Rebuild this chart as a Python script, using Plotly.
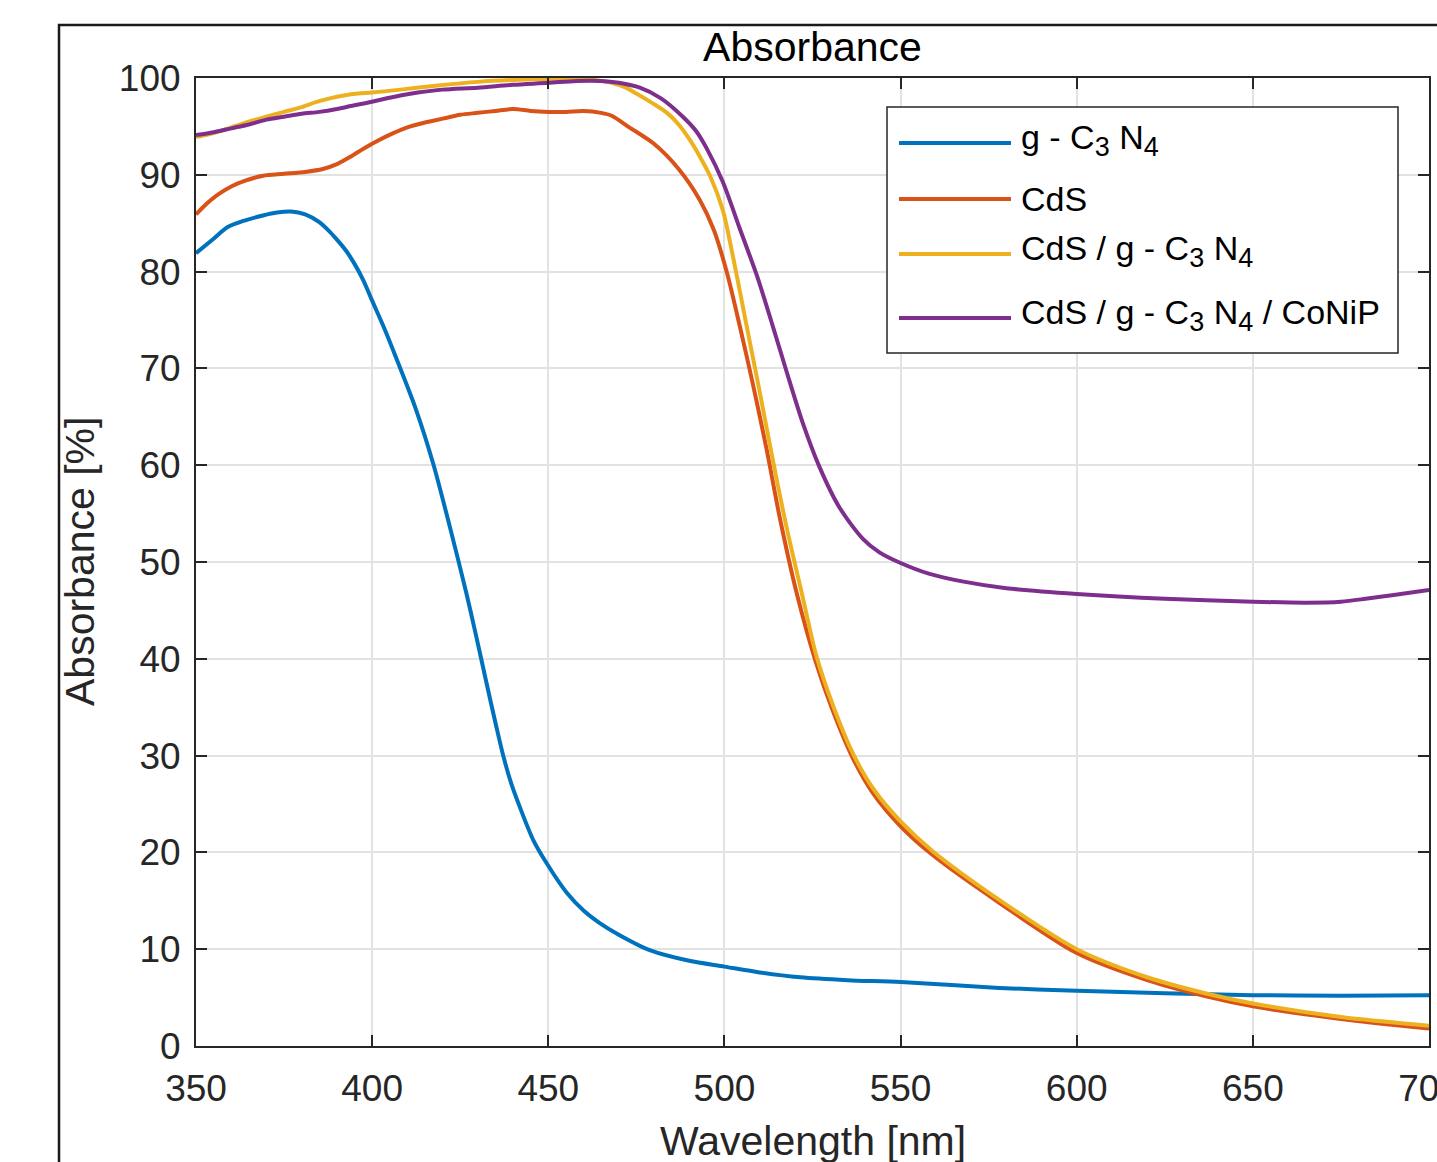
import plotly.graph_objects as go

# Wavelength [nm] / absorbance [%] pairs for each sample
wl_gcn = [350, 355, 359, 364, 369, 373, 377, 381, 385, 388, 390, 392.5, 395, 397.5, 400, 403.5,
          406.8, 412.4, 417.3, 421.8, 426.6, 429.5, 432.4, 435, 437.2, 439.5, 441.9, 445.7,
          449.5, 455.3, 460, 464.6, 470, 478.8, 490, 500, 510, 521.5, 535, 550, 578, 600,
          625, 650, 675, 700]
abs_gcn = [81.9, 83.4, 84.6, 85.3, 85.8, 86.1, 86.2, 85.9, 85.1, 84.1, 83.3, 82.2, 80.8, 79.1,
           77.0, 74.1, 71.1, 65.8, 60.2, 54.0, 47.0, 42.4, 37.6, 33.4, 30.0, 27.1, 24.7, 21.3,
           18.9, 15.8, 14.0, 12.7, 11.5, 9.9, 8.8, 8.2, 7.6, 7.1, 6.8, 6.6, 6.0, 5.7,
           5.45, 5.25, 5.2, 5.25]

wl_cds = [350, 353, 356, 360, 364, 369, 375, 381, 386, 390, 394, 398, 402, 406, 410, 415,
          420, 425, 430, 435, 440, 445, 450, 455, 460, 465, 468, 473, 480, 487, 493, 497,
          500.7, 504.4, 508, 512, 515.7, 520.5, 526, 530.8, 536.5, 542.2, 550, 559.2, 578,
          600, 620, 637, 650, 675, 700]
abs_cds = [85.9, 87.0, 87.9, 88.8, 89.4, 89.9, 90.1, 90.3, 90.6, 91.1, 91.9, 92.8, 93.6, 94.3,
           94.9, 95.4, 95.8, 96.2, 96.4, 96.6, 96.8, 96.6, 96.5, 96.5, 96.6, 96.4, 96.1, 94.9,
           93.2, 90.6, 87.4, 84.3, 79.9, 74.3, 68.5, 61.6, 54.6, 46.8, 39.6, 34.6, 29.7, 26.1,
           22.7, 19.7, 14.8, 9.6, 6.8, 5.1, 4.1, 2.8, 1.8]

wl_cds_gcn = [350, 355, 360, 365, 370, 375, 380, 384, 388, 392, 396, 400, 408, 418, 430, 440,
              450, 458, 463, 468, 472, 475, 480, 483.7, 487, 490.2, 493, 495.9, 499.5, 502.4,
              506.3, 510, 513.7, 517.7, 522.2, 526.1, 530.8, 536.5, 542.2, 550, 559.2, 578,
              600, 620, 637, 650, 675, 700]
abs_cds_gcn = [93.9, 94.3, 94.9, 95.5, 96.0, 96.5, 97.0, 97.5, 97.9, 98.2, 98.4, 98.5, 98.8,
               99.2, 99.6, 99.8, 99.9, 99.9, 99.8, 99.5, 99.0, 98.4, 97.3, 96.4, 95.2, 93.6,
               91.9, 89.9, 86.4, 81.6, 74.4, 67.6, 60.6, 53.5, 46.4, 40.3, 35.2, 30.2, 26.6,
               23.2, 20.1, 15.1, 10.0, 7.1, 5.4, 4.4, 3.0, 2.1]

wl_conip = [350, 355, 360, 365, 370, 375, 380, 385, 390, 394, 398, 403, 408, 413, 420, 430,
            440, 450, 458, 465, 470, 476, 482, 488.2, 492, 495, 499.5, 504.4, 509.2, 513.7,
            517.7, 522.2, 527, 532.7, 539.3, 544, 550, 558, 567.5, 580, 600, 625, 650, 665,
            675, 682, 690, 700]
abs_conip = [94.1, 94.4, 94.8, 95.2, 95.7, 96.0, 96.3, 96.5, 96.8, 97.1, 97.4, 97.8, 98.2,
             98.5, 98.8, 99.0, 99.3, 99.5, 99.7, 99.7, 99.5, 99.0, 97.9, 96.0, 94.5, 92.7,
             89.3, 84.4, 79.6, 74.4, 69.6, 64.4, 59.8, 55.6, 52.4, 51.0, 49.9, 48.8, 48.0,
             47.3, 46.7, 46.2, 45.9, 45.8, 45.9, 46.2, 46.6, 47.1]


def sub(d):
    # subscript a little larger than plotly's default 70 %
    return f'<sub><span style="font-size:27px">{d}</span></sub>'


legend_labels = [
    f"g - C{sub(3)} N{sub(4)}",
    "CdS",
    f"CdS / g - C{sub(3)} N{sub(4)}",
    f"CdS / g - C{sub(3)} N{sub(4)} / CoNiP",
]
line_colors = ["#0072BD", "#D95319", "#EDB120", "#7E2F8E"]

x_ticks = [350, 400, 450, 500, 550, 600, 650, 700]
y_ticks = [0, 10, 20, 30, 40, 50, 60, 70, 80, 90, 100]

W, H = 1437, 1162
L, R, T, B = 196, 8, 78, 116
PW, PH = W - L - R, H - T - B


def px_x(px):
    return (px - L) / PW


def px_y(py):
    return (H - B - py) / PH


FONT = "Arial, Liberation Sans, Helvetica, sans-serif"
INK = "#262626"

fig = go.Figure()
series = [(wl_gcn, abs_gcn), (wl_cds, abs_cds), (wl_cds_gcn, abs_cds_gcn), (wl_conip, abs_conip)]
for (xs, ys), name, col in zip(series, legend_labels, line_colors):
    fig.add_trace(go.Scatter(
        x=xs, y=ys, mode="lines", name=name, showlegend=False,
        line=dict(color=col, width=4, shape="spline", smoothing=0.8),
    ))

axis_common = dict(
    automargin=False,
    showgrid=True, gridcolor="#e2e2e2", gridwidth=1.5,
    showline=True, linecolor=INK, linewidth=2, mirror="ticks",
    ticks="inside", ticklen=11, tickwidth=2, tickcolor=INK,
    zeroline=False, tickfont=dict(family=FONT, size=37, color=INK),
)
fig.update_xaxes(range=[350, 700], tickvals=x_ticks, ticklabelstandoff=9,
                 ticklabeloverflow="allow", **axis_common)
fig.update_yaxes(range=[0, 100], tickvals=y_ticks, ticklabelstandoff=6, **axis_common)

shapes = [
    # outer figure frame
    dict(type="rect", xref="paper", yref="paper", x0=px_x(59), x1=px_x(1520),
         y0=px_y(1250), y1=px_y(25), line=dict(color="#1a1a1a", width=2.5), layer="below"),
    # legend box
    dict(type="rect", xref="paper", yref="paper", x0=px_x(887), x1=px_x(1398),
         y0=px_y(353), y1=px_y(107), line=dict(color=INK, width=1.5), fillcolor="white"),
]
annotations = [
    dict(text="Wavelength [nm]", xref="paper", yref="paper", x=0.5, y=px_y(1141),
         xanchor="center", yanchor="middle", showarrow=False,
         font=dict(family=FONT, size=41, color=INK)),
    dict(text="Absorbance [%]", xref="paper", yref="paper", x=px_x(80), y=0.5,
         textangle=-90, xanchor="center", yanchor="middle", showarrow=False,
         font=dict(family=FONT, size=41, color=INK)),
]
entry_y = [143, 199, 254, 318]
for label, col, ey in zip(legend_labels, line_colors, entry_y):
    shapes.append(dict(type="line", xref="paper", yref="paper", x0=px_x(899), x1=px_x(1011),
                       y0=px_y(ey), y1=px_y(ey), line=dict(color=col, width=4)))
    shift = -3 if "<sub>" in label else 0
    annotations.append(dict(text=label, xref="paper", yref="paper", x=px_x(1019),
                            y=px_y(ey + shift), xanchor="left", yanchor="middle",
                            showarrow=False, font=dict(family=FONT, size=34, color="#000000")))

fig.update_layout(
    width=W, height=H, margin=dict(l=L, r=R, t=T, b=B, autoexpand=False),
    paper_bgcolor="white", plot_bgcolor="white",
    title=dict(text="Absorbance", x=0.5, xref="paper", xanchor="center",
               y=1 - 47 / H, yref="container", yanchor="middle",
               font=dict(family=FONT, size=41, color="#000000")),
    shapes=shapes, annotations=annotations, showlegend=False,
)

fig.write_html("out.html")
